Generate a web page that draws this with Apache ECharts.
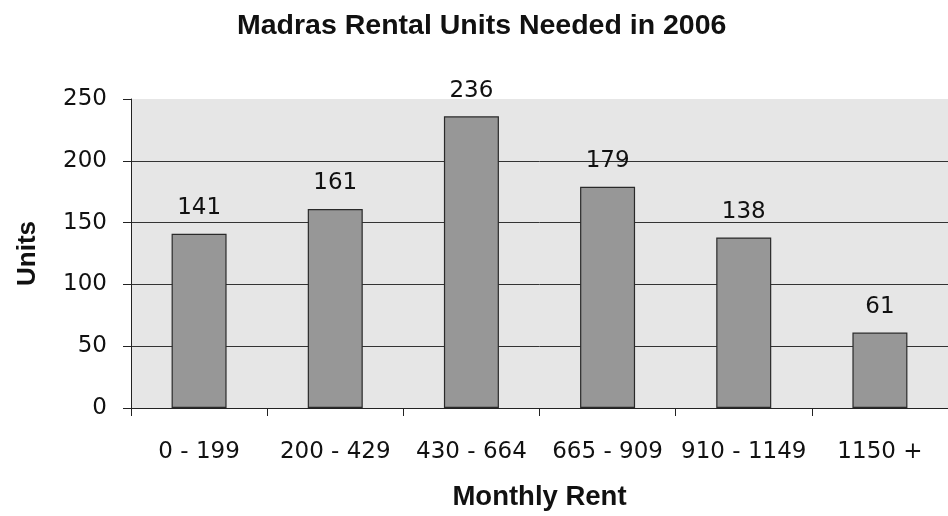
<!DOCTYPE html>
<html>
<head>
<meta charset="utf-8">
<script src="https://cdn.jsdelivr.net/npm/echarts@6/dist/echarts.min.js"></script>
<style>
html,body{margin:0;padding:0;background:#fff;}
#chart{width:948px;height:516px;}
</style>
</head>
<body>
<div id="chart"></div>
<script>
const titleText = 'Madras Rental Units Needed in 2006';
const categories = ['0 - 199', '200 - 429', '430 - 664', '665 - 909', '910 - 1149', '1150 +'];
const units = [141, 161, 236, 179, 138, 61];
const yTicks = [0, 50, 100, 150, 200, 250];
const xAxisTitle = 'Monthly Rent';
const yAxisTitle = 'Units';

const numFont = 'DejaVu Sans';
const boldFont = 'Liberation Sans';

const chart = echarts.init(document.getElementById('chart'), null, {renderer: 'canvas'});
chart.setOption({
  backgroundColor: '#ffffff',
  animation: false,
  title: {
    text: titleText,
    left: 232,
    top: 7,
    textStyle: {fontFamily: boldFont, fontWeight: 'bold', fontSize: 28.5, color: '#111'}
  },
  grid: {
    left: 131, top: 99, width: 828, height: 311,
    show: true, backgroundColor: '#e6e6e6', borderWidth: 0
  },
  xAxis: {
    type: 'category',
    data: categories,
    name: xAxisTitle,
    nameLocation: 'middle',
    nameGap: 75,
    nameTextStyle: {fontFamily: boldFont, fontWeight: 'bold', fontSize: 27.5, color: '#111'},
    axisLine: {lineStyle: {color: '#222', width: 1}},
    axisTick: {show: true, length: 8, lineStyle: {color: '#222'}},
    axisLabel: {fontFamily: numFont, fontSize: 23, color: '#111', margin: 33, interval: 0},
    splitLine: {show: false}
  },
  yAxis: {
    type: 'value',
    min: yTicks[0],
    max: yTicks[yTicks.length - 1],
    interval: yTicks[1] - yTicks[0],
    name: yAxisTitle,
    nameLocation: 'middle',
    nameGap: 90,
    nameTextStyle: {fontFamily: boldFont, fontWeight: 'bold', fontSize: 26, color: '#111'},
    axisLine: {show: true, lineStyle: {color: '#222', width: 1}},
    axisTick: {show: true, length: 8, lineStyle: {color: '#222'}},
    axisLabel: {fontFamily: numFont, fontSize: 23, color: '#111', margin: 24},
    splitLine: {show: true, lineStyle: {color: ['#333', '#333', '#333', '#333', '#333', 'rgba(0,0,0,0)'], width: 1}}
  },
  series: [{
    type: 'bar',
    data: units,
    barWidth: 55,
    itemStyle: {color: '#979797', borderColor: '#2a2a2a', borderWidth: 1.2},
    label: {show: true, position: 'top', distance: 14, fontFamily: numFont, fontSize: 23, color: '#111'}
  }]
});
</script>
</body>
</html>
